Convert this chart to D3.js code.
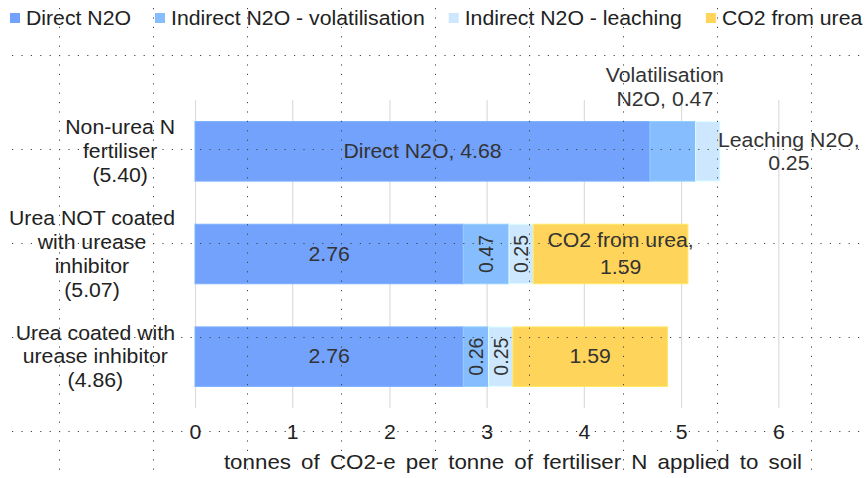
<!DOCTYPE html>
<html><head><meta charset="utf-8">
<script src="https://cdn.jsdelivr.net/npm/d3@7"></script>
<style>
body{margin:0;background:#fff}
svg{display:block}
text{font-family:"Liberation Sans",Arial,sans-serif}
</style>
</head><body>
<svg id="chart" width="867" height="478"></svg>
<script>
// ---------------- DATA ----------------
const categories = [
  ["Non-urea N", "fertiliser"],
  ["Urea NOT coated", "with urease", "inhibitor"],
  ["Urea coated with", "urease inhibitor"]
];
const seriesNames = ["Direct N2O", "Indirect N2O - volatilisation", "Indirect N2O - leaching", "CO2 from urea"];
const directN2O         = [4.68, 2.76, 2.76];
const volatilisationN2O = [0.47, 0.47, 0.26];
const leachingN2O       = [0.25, 0.25, 0.25];
const co2FromUrea       = [0.00, 1.59, 1.59];
const xTicks = [0, 1, 2, 3, 4, 5, 6];
const axisTitle = "tonnes of CO2-e per tonne of fertiliser N applied to soil";
// data-label text prefixes ("|" = line break)
const labelPrefix = [
  ["Direct N2O, ", "Volatilisation|N2O, ", "Leaching N2O,|", ""],
  ["", "", "", "CO2 from urea,|"],
  ["", "", "", ""]
];

// ---------------- STYLE / LAYOUT ----------------
const colors = ["#73a2fc", "#85bdfe", "#cde8fe", "#ffd45a"];
const labelPlace = [
  ["in", "above", "right", "none"],
  ["in", "rot", "rot", "in"],
  ["in", "rot", "rot", "in"]
];
const SX = 1.09, FS = 19.5;
const W = 867, H = 478;
const plot = {left: 195, right: 778.3, top: 100, bottom: 408};

const svg = d3.select("#chart");
const fmt = d3.format(".2f");

const series = [directN2O, volatilisationN2O, leachingN2O, co2FromUrea];
const rows = categories.map((c, i) => {
  const vals = series.map(s => s[i]);
  return {name: c, vals, total: d3.sum(vals), i};
});

const x = d3.scaleLinear().domain([0, 6]).range([plot.left, plot.right]);
const y = d3.scaleBand().domain(d3.range(categories.length))
  .range([plot.top, plot.bottom]).paddingInner(0.42).paddingOuter(0.21);

// text helper: stretched text group, multi-line centred on y
function addText(parent, px, py, lines, o = {}) {
  const size = o.size || FS, lh = o.lh || 24, sx = o.sx || SX;
  const g = parent.append("g")
    .attr("transform", `translate(${px},${py})` + (o.rotate ? ` rotate(${o.rotate})` : "") + ` scale(${sx},1)`);
  lines.forEach((ln, k) => {
    g.append("text")
      .attr("x", 0)
      .attr("y", (k - (lines.length - 1) / 2) * lh)
      .attr("dy", "0.35em")
      .attr("text-anchor", o.anchor || "middle")
      .attr("font-size", size)
      .attr("fill", o.fill || "#222")
      .style("word-spacing", o.ws || null)
      .text(ln);
  });
  return g;
}

// ---------------- GRIDLINES + AXIS ----------------
const xAxis = d3.axisBottom(x).tickValues(xTicks).tickSize(-(plot.bottom - plot.top)).tickPadding(0).tickFormat(d3.format("d"));
const ax = svg.append("g").attr("transform", `translate(0,${plot.bottom})`).call(xAxis);
ax.select(".domain").remove();
ax.selectAll(".tick line").attr("stroke", "#dcdcdc").attr("stroke-width", 1.2);
ax.selectAll(".tick text")
  .attr("y", 24).attr("dy", "0.35em")
  .attr("font-size", FS).attr("fill", "#222")
  .attr("font-family", '"Liberation Sans",Arial,sans-serif')
  .attr("transform", `scale(${SX},1)`);

addText(svg, (plot.left + 831) / 2, 462, [axisTitle], {size: 20.5, ws: "3.6px"});

// ---------------- BARS ----------------
const barG = svg.append("g");
rows.forEach(r => {
  let acc = 0;
  r.vals.forEach((v, s) => {
    const x0 = acc, x1 = acc + v;
    acc = x1;
    if (v <= 0) return;
    barG.append("rect")
      .attr("x", x(x0)).attr("y", y(r.i))
      .attr("width", x(x1) - x(x0)).attr("height", y.bandwidth())
      .attr("fill", colors[s])
      .attr("stroke", d3.color(colors[s]).brighter(0.25))
      .attr("stroke-width", 1);
  });
});

// ---------------- DATA LABELS ----------------
const lblG = svg.append("g");
rows.forEach(r => {
  let acc = 0;
  r.vals.forEach((v, s) => {
    const x0 = acc, x1 = acc + v;
    acc = x1;
    const place = labelPlace[r.i][s];
    if (place === "none" || v <= 0) return;
    const lines = (labelPrefix[r.i][s] + fmt(v)).split("|");
    const cx = (x(x0) + x(x1)) / 2, cy = y(r.i) + y.bandwidth() / 2;
    if (place === "in") {
      const dx = lines.length > 1 ? 10 : 0;
      addText(lblG, cx + dx, cy, lines, {fill: "#333", lh: 27});
    } else if (place === "rot") {
      addText(lblG, cx, cy, lines, {fill: "#333", rotate: -90, sx: 1});
    } else if (place === "above") {
      addText(lblG, cx - 8, y(r.i) - 34, lines, {fill: "#333", lh: 24});
    } else if (place === "right") {
      // block left-aligned at bar end, lines centred in block
      const tmp = addText(lblG, 0, 0, lines, {fill: "#333"});
      const wmax = d3.max(tmp.selectAll("text").nodes(), n => n.getComputedTextLength()) * SX;
      tmp.remove();
      addText(lblG, x(r.total) - 2 + wmax / 2, cy, lines, {fill: "#333", lh: 23});
    }
  });
});

// ---------------- CATEGORY LABELS ----------------
rows.forEach(r => {
  const lines = r.name.concat([`(${fmt(r.total)})`]);
  const tmp = addText(svg, 0, 0, lines, {});
  const wmax = d3.max(tmp.selectAll("text").nodes(), n => n.getComputedTextLength()) * SX;
  tmp.remove();
  addText(svg, 175 - wmax / 2, y(r.i) + y.bandwidth() / 2, lines, {fill: "#222", lh: 24});
});

// ---------------- LEGEND ----------------
let lx = 10;
seriesNames.forEach((name, s) => {
  svg.append("rect").attr("x", lx).attr("y", 13).attr("width", 10).attr("height", 10).attr("fill", colors[s]);
  const g = addText(svg, lx + 16, 18, [name], {anchor: "start", fill: "#222"});
  const w = g.select("text").node().getComputedTextLength() * SX;
  lx += 16 + w + 24;
});

// ---------------- DOTTED GUIDE OVERLAY ----------------
const ov = svg.append("g").attr("stroke", "#444").attr("stroke-width", 1).attr("stroke-dasharray", "1.2 8.2");
d3.range(59, W, 94).forEach(vx => {
  ov.append("line").attr("x1", vx + 0.5).attr("x2", vx + 0.5).attr("y1", 55 - 9.4 * 6).attr("y2", H);
});
d3.range(55, H, 94).forEach(hy => {
  ov.append("line").attr("y1", hy + 0.5).attr("y2", hy + 0.5).attr("x1", 59 - 9.4 * 5).attr("x2", W);
});
</script>
</body></html>
